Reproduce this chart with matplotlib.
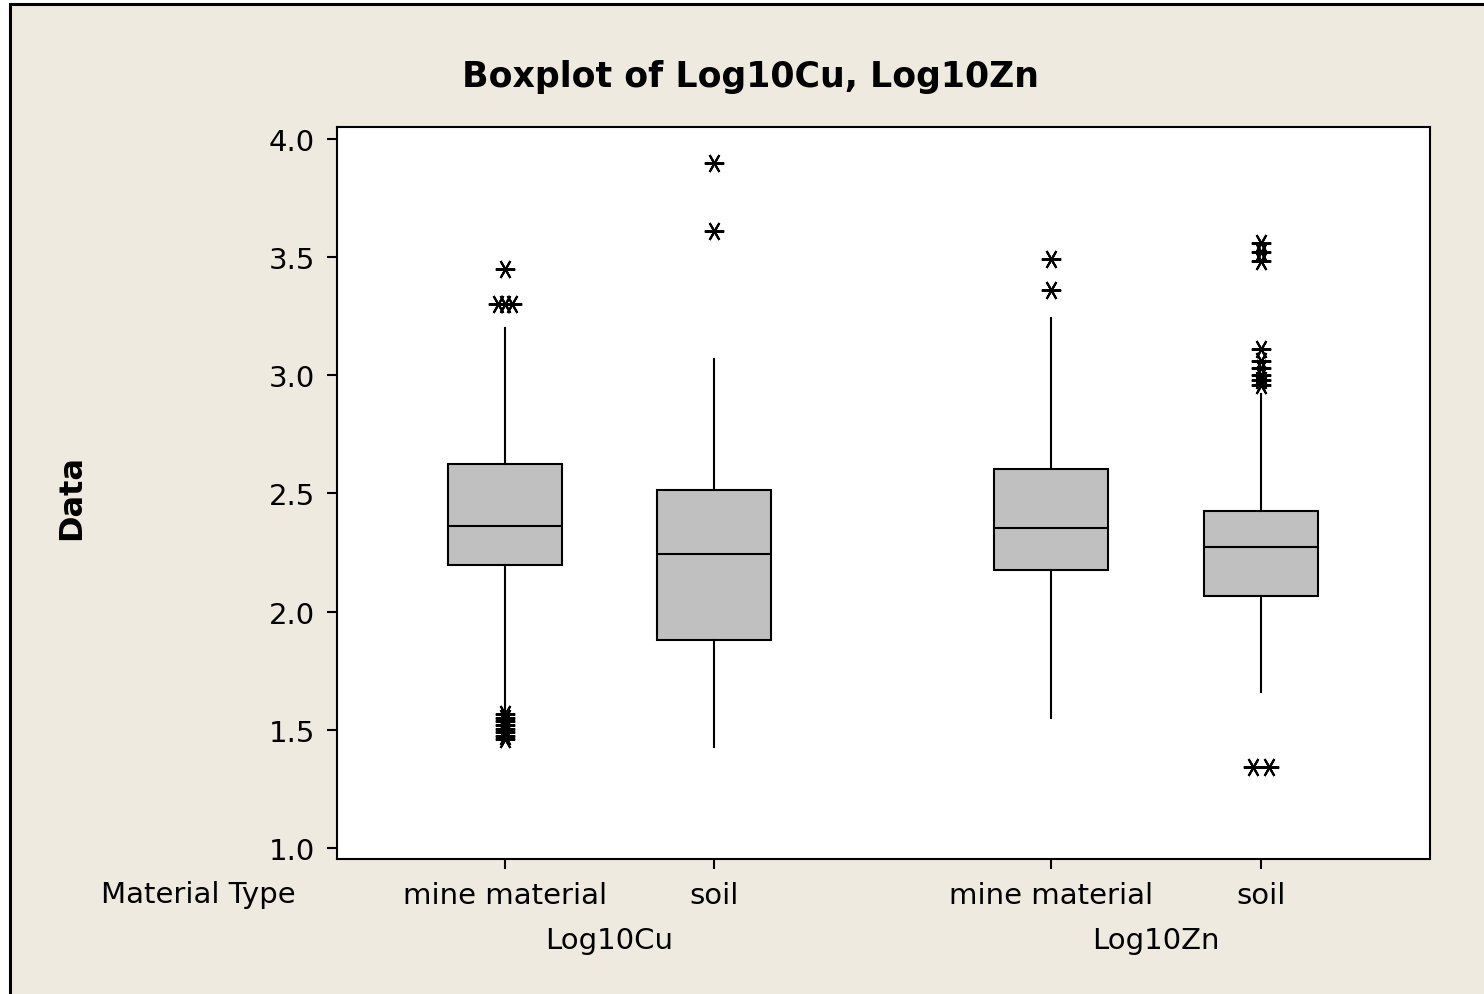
import matplotlib
matplotlib.use("Agg")
import matplotlib.pyplot as plt
from matplotlib.patches import Rectangle

# ---- data ----
variables = ["Log10Cu", "Log10Zn"]
materials = ["mine material", "soil"]
tick_labels = ["mine material", "soil", "mine material", "soil"]

q1 = [2.197, 1.880, 2.176, 2.066]
median = [2.362, 2.244, 2.354, 2.273]
q3 = [2.625, 2.515, 2.603, 2.426]
whisker_low = [1.580, 1.427, 1.550, 1.660]
whisker_high = [3.200, 3.069, 3.243, 2.921]

# outliers per box: values and small horizontal tie offsets (in box units)
outliers_cu_mine = [3.45, 3.30, 3.30, 3.30,
                    1.565, 1.55, 1.535, 1.52, 1.505, 1.49, 1.475, 1.46]
offsets_cu_mine = [0, -0.033, 0, 0.033,
                   0, 0, 0, 0, 0, 0, 0, 0]
outliers_cu_soil = [3.898, 3.611]
offsets_cu_soil = [0, 0]
outliers_zn_mine = [3.492, 3.361]
offsets_zn_mine = [0, 0]
outliers_zn_soil = [3.56, 3.52, 3.485, 3.11, 3.06, 3.03, 3.00, 2.98, 2.96, 1.342, 1.342]
offsets_zn_soil = [0, 0, 0, 0, 0, 0, 0, 0, 0, -0.04, 0.04]

outliers = [outliers_cu_mine, outliers_cu_soil, outliers_zn_mine, outliers_zn_soil]
offsets = [offsets_cu_mine, offsets_cu_soil, offsets_zn_mine, offsets_zn_soil]

yticks = [1.0, 1.5, 2.0, 2.5, 3.0, 3.5, 4.0]

# ---- layout ----
positions = [1.0, 2.0, 3.612, 4.617]
box_width = 0.545
bg = "#EEEAE0"

fig = plt.figure(figsize=(14.84, 9.95), dpi=100)
fig.patch.set_facecolor("white")
fig.patches.append(Rectangle((10 / 1484, -0.02), 1.1, 1 - 5 / 995 + 0.02,
                             transform=fig.transFigure, facecolor=bg,
                             edgecolor="black", linewidth=2.2, zorder=-10))

ax = fig.add_axes([337 / 1484, 1 - 860 / 995, (1430 - 337) / 1484, (860 - 128) / 995])
ax.set_facecolor("white")

stats = []
for i in range(4):
    stats.append(dict(med=median[i], q1=q1[i], q3=q3[i],
                      whislo=whisker_low[i], whishi=whisker_high[i], fliers=[]))

ax.bxp(stats, positions=positions, widths=box_width, showfliers=False,
       showcaps=False, patch_artist=True,
       boxprops=dict(facecolor="#C0C0C0", edgecolor="black", linewidth=1.5),
       medianprops=dict(color="black", linewidth=1.5),
       whiskerprops=dict(color="black", linewidth=1.5))

for pos, vals, offs in zip(positions, outliers, offsets):
    xs = [pos + o for o in offs]
    ax.plot(xs, vals, linestyle="none", marker=(6, 2, 90), markersize=14,
            markeredgewidth=1.5, color="black")

ax.set_xlim(0.196, 5.426)
ax.set_ylim(0.953, 4.051)
ax.set_yticks(yticks)
ax.set_yticklabels([f"{v:.1f}" for v in yticks])
ax.set_xticks(positions)
ax.set_xticklabels(tick_labels)

for s in ax.spines.values():
    s.set_linewidth(1.5)
ax.tick_params(axis="both", direction="out", length=7, width=1.5,
               labelsize=21, colors="black")
ax.tick_params(axis="y", pad=9)
ax.tick_params(axis="x", pad=9)

fig.text(750 / 1484, 1 - 77 / 995, "Boxplot of Log10Cu, Log10Zn", ha="center",
         va="center", fontsize=25, fontweight="bold")
fig.text(72 / 1484, 1 - 497 / 995, "Data", ha="center", va="center",
         rotation=90, fontsize=23, fontweight="bold")
fig.text(198 / 1484, 1 - 895 / 995, "Material Type", ha="center", va="center",
         fontsize=21)

group_centers = [(positions[0] + positions[1]) / 2, (positions[2] + positions[3]) / 2]
for gc, name in zip(group_centers, variables):
    ax.annotate(name, xy=(gc, 0), xycoords=("data", "axes fraction"),
                xytext=(0, -58.5), textcoords="offset points", ha="center",
                va="center", fontsize=21, annotation_clip=False)

fig.savefig("out.png", dpi=100, facecolor=fig.get_facecolor())
